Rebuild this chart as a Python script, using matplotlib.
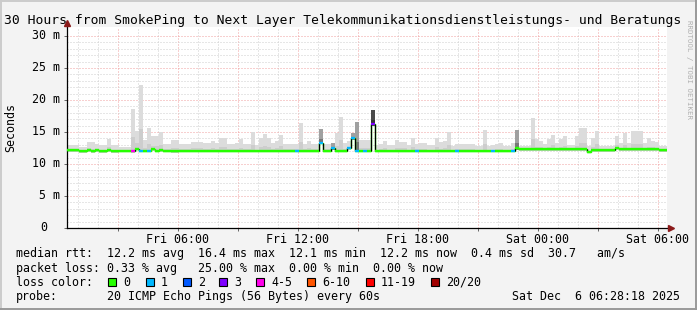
import numpy as np
import matplotlib
matplotlib.use("Agg")
import matplotlib.pyplot as plt
from matplotlib import transforms
from matplotlib.patches import Rectangle
from matplotlib.lines import Line2D

plt.rcParams['font.family'] = 'DejaVu Sans Mono'

W, H = 697, 310
label_size = 8.4

# time axis: hours since Fri 00:00, graph ends Sat 06:28:18
t_start = 0.4717
bin_h = 0.2

title = "30 Hours from SmokePing to Next Layer Telekommunikationsdienstleistungs- und Beratungs"
tick_hours = [6, 12, 18, 24, 30]
tick_labels = ["Fri 06:00", "Fri 12:00", "Fri 18:00", "Sat 00:00", "Sat 06:00"]
y_ticks = [0, 5, 10, 15, 20, 25, 30]
y_labels = ["0", "5 m", "10 m", "15 m", "20 m", "25 m", "30 m"]

# median rtt per 12 minute bin (ms)
median = [
    12.2, 12.2, 12.2, 12.0, 12.0, 12.2, 12.0, 12.2, 12.0, 12.0,
    12.2, 12.0, 12.0, 12.1, 12.1, 12.1, 12.0, 12.4, 12.1, 12.1,
    12.1, 12.3, 12.1, 12.2, 12.1, 12.1, 12.0, 12.0, 12.1, 12.1,
    12.1, 12.1, 12.1, 12.1, 12.1, 12.1, 12.1, 12.1, 12.1, 12.1,
    12.1, 12.1, 12.1, 12.1, 12.1, 12.1, 12.1, 12.1, 12.1, 12.1,
    12.1, 12.1, 12.1, 12.1, 12.1, 12.1, 12.1, 12.1, 12.1, 12.1,
    12.1, 12.1, 12.1, 13.3, 12.1, 12.1, 12.5, 12.1, 12.1, 12.1,
    12.5, 14.0, 12.1, 12.1, 12.1, 12.1, 16.25, 12.1, 12.1, 12.1,
    12.1, 12.1, 12.1, 12.1, 12.1, 12.1, 12.1, 12.1, 12.1, 12.1,
    12.1, 12.1, 12.1, 12.1, 12.1, 12.1, 12.1, 12.1, 12.1, 12.1,
    12.1, 12.1, 12.1, 12.1, 12.1, 12.1, 12.1, 12.1, 12.1, 12.1,
    12.1, 12.1, 12.5, 12.3, 12.3, 12.3, 12.3, 12.3, 12.3, 12.3,
    12.3, 12.3, 12.3, 12.3, 12.3, 12.3, 12.3, 12.3, 12.3, 12.3,
    11.9, 12.2, 12.2, 12.2, 12.2, 12.2, 12.2, 12.5, 12.3, 12.3,
    12.3, 12.3, 12.3, 12.3, 12.3, 12.3, 12.3, 12.3, 12.2, 12.2,
]

# top of the smoke (slowest ping) per bin (ms)
smoke_top = [
    13.0, 13.0, 13.0, 12.7, 12.7, 13.5, 13.5, 13.2, 12.9, 12.9,
    13.85, 13.0, 13.0, 12.7, 12.7, 12.7, 18.6, 15.2, 22.3, 13.8,
    15.6, 14.4, 14.4, 15.0, 13.2, 13.2, 13.8, 13.7, 13.2, 13.2,
    13.2, 13.5, 13.5, 13.5, 13.3, 13.3, 13.6, 13.3, 14.0, 14.0,
    13.1, 13.1, 13.3, 13.9, 13.1, 13.1, 15.05, 12.9, 14.0, 14.7,
    14.0, 13.3, 13.6, 14.6, 13.1, 13.1, 13.1, 13.2, 16.35, 13.1,
    13.6, 13.1, 13.1, 15.4, 13.1, 13.1, 13.3, 14.8, 17.4, 13.3,
    13.6, 14.8, 16.6, 13.8, 13.8, 13.8, 18.4, 12.9, 13.1, 13.6,
    12.9, 12.9, 13.8, 13.5, 13.5, 12.9, 14.1, 13.1, 13.3, 13.3,
    12.9, 12.9, 14.1, 13.4, 13.6, 14.95, 12.8, 13.1, 13.1, 13.1,
    13.2, 13.1, 12.8, 12.8, 15.3, 12.8, 12.9, 13.1, 13.3, 12.8,
    12.8, 13.3, 15.3, 12.8, 12.8, 12.8, 17.2, 13.9, 13.6, 13.2,
    13.9, 14.6, 13.3, 13.9, 14.4, 13.0, 13.0, 14.4, 15.6, 15.6,
    12.8, 14.1, 15.1, 12.8, 12.8, 12.8, 12.8, 14.3, 13.3, 14.8,
    13.3, 15.1, 15.1, 15.1, 13.3, 14.0, 13.6, 13.5, 12.8, 12.8,
]

# lost pings (of 20) per bin
loss = [
    0, 0, 0, 0, 0, 0, 0, 0, 0, 0,
    0, 0, 0, 0, 0, 0, 4, 0, 1, 0,
    1, 0, 0, 0, 0, 0, 0, 0, 0, 0,
    0, 0, 0, 0, 0, 0, 0, 0, 0, 0,
    0, 0, 0, 0, 0, 0, 0, 0, 0, 0,
    0, 0, 0, 0, 0, 0, 0, 1, 0, 0,
    0, 0, 0, 1, 0, 0, 1, 0, 0, 0,
    1, 1, 1, 0, 1, 0, 3, 0, 0, 0,
    0, 0, 0, 0, 0, 0, 0, 1, 0, 0,
    0, 0, 0, 0, 0, 0, 0, 1, 0, 0,
    0, 0, 0, 0, 0, 0, 1, 0, 0, 0,
    0, 1, 0, 0, 0, 0, 0, 0, 0, 0,
    0, 0, 0, 0, 0, 0, 0, 0, 0, 0,
    0, 0, 0, 0, 0, 0, 0, 0, 0, 0,
    0, 0, 0, 0, 0, 0, 0, 0, 0, 0,
]
dark_bins = [63, 66, 71, 72, 112]
darkest_bins = [76]

loss_names = ["0", "1", "2", "3", "4-5", "6-10", "11-19", "20/20"]
loss_cols = ["#26ff00", "#00b8ff", "#0059ff", "#7e00ff", "#ff00ea", "#ff5500", "#ff0000", "#a10000"]


def loss_color(n):
    if n <= 3:
        return loss_cols[n]
    if n <= 5:
        return loss_cols[4]
    if n <= 10:
        return loss_cols[5]
    if n <= 19:
        return loss_cols[6]
    return loss_cols[7]


def fx(x):
    return x / W


def fy(y):
    return 1 - y / H


median = np.array(median)
smoke_top = np.array(smoke_top)
x_left = t_start + np.arange(len(median)) * bin_h
low = median - 0.25

outer = ['#dcdcdc'] * len(median)
inner = ['#cdcdcd'] * len(median)
for k in dark_bins:
    outer[k], inner[k] = '#a0a0a0', '#777777'
for k in darkest_bins:
    outer[k], inner[k] = '#4a4a4a', '#333333'

fig = plt.figure(figsize=(W / 100, H / 100), dpi=100, facecolor='#f3f3f3')
ax = fig.add_axes([fx(67), 82 / H, 600 / W, 201 / H])
ax.set_facecolor('white')
ax.set_xlim(t_start, t_start + 30)
ax.set_ylim(0, 201 / 6.4)

# grid
ax.set_xticks(np.arange(3, 31, 3))
ax.set_xticklabels([tick_labels[tick_hours.index(h)] if h in tick_hours else "" for h in range(3, 31, 3)],
                   fontsize=label_size)
ax.set_xticks(np.arange(1, 31), minor=True)
ax.set_yticks(y_ticks)
ax.set_yticklabels([])
ax.set_yticks(np.arange(0, 31), minor=True)
ax.set_axisbelow(True)
ax.grid(which='minor', color='#cfcfcf', linestyle=(0, (1, 2)), linewidth=0.72)
ax.grid(which='major', color='#f0a0a0', linestyle=(0, (1, 2)), linewidth=0.72)
ax.tick_params(which='minor', length=0)
ax.tick_params(which='major', length=2, width=0.7, color='#666666', pad=1.5)
for s in ['top', 'right']:
    ax.spines[s].set_visible(False)
for s in ['left', 'bottom']:
    ax.spines[s].set_color('black')
    ax.spines[s].set_linewidth(0.9)

# smoke
ax.bar(x_left, smoke_top - low, bottom=low, width=bin_h, align='edge', color=outer, linewidth=0, zorder=2)
ax.bar(x_left, (smoke_top - low) * 0.35, bottom=low, width=bin_h, align='edge', color=inner, linewidth=0, zorder=2.1)

# median line: small steps stay green, real jumps get a black connector
ax.step(np.append(x_left, x_left[-1] + bin_h), np.append(median, median[-1]), where='post',
        color=loss_cols[0], linewidth=1.0, zorder=3)
jump = np.abs(np.diff(median)) > 0.3
ax.vlines(x_left[1:][jump], np.minimum(median[:-1], median[1:])[jump], np.maximum(median[:-1], median[1:])[jump],
          colors='black', linewidth=0.9, zorder=3.5)
ax.hlines(median, x_left, x_left + bin_h, colors=[loss_color(n) for n in loss], linewidth=1.7, zorder=4)

# arrows
ax.plot([1.006], [0], marker='>', ms=5, color='#8b1a1a', transform=ax.transAxes, clip_on=False, zorder=5)
ax.plot([0], [1.02], marker='^', ms=5, color='#8b1a1a', transform=ax.transAxes, clip_on=False, zorder=5)

# y labels
ytrans = transforms.offset_copy(transforms.blended_transform_factory(fig.transFigure, ax.transData),
                                fig=fig, y=-3.3, units='dots')
for v, lab in zip(y_ticks, y_labels):
    xr = 47 if lab == "0" else 60
    fig.text(fx(xr), v, lab, transform=ytrans, ha='right', va='baseline', fontsize=label_size)

fig.text(fx(11), fy(127), "Seconds", rotation=90, ha='center', va='center', fontsize=label_size)
fig.text(fx(4), fy(24), title, ha='left', va='baseline', fontsize=9.4)
fig.text(fx(689), fy(20), "RRDTOOL / TOBI OETIKER", rotation=270, ha='center', va='top',
         fontsize=5.3, color='#b0b0b0')

# legend lines
fig.text(fx(16), fy(257.5), "median rtt:  12.2 ms avg  16.4 ms max  12.1 ms min  12.2 ms now  0.4 ms sd  30.7   am/s",
         ha='left', va='baseline', fontsize=label_size)
fig.text(fx(16), fy(271.7), "packet loss: 0.33 % avg   25.00 % max  0.00 % min  0.00 % now",
         ha='left', va='baseline', fontsize=label_size)
fig.text(fx(16), fy(285.8), "loss color:", ha='left', va='baseline', fontsize=label_size)
box_x = [108, 146, 183, 219, 256, 307, 366, 431]
for bx, name, c in zip(box_x, loss_names, loss_cols):
    fig.add_artist(Rectangle((fx(bx), fy(286)), 8 / W, 8 / H, transform=fig.transFigure,
                             facecolor=c, edgecolor='black', linewidth=0.8))
    fig.text(fx(bx + 15), fy(285.8), name, ha='left', va='baseline', fontsize=label_size)
fig.text(fx(16), fy(300), "probe:", ha='left', va='baseline', fontsize=label_size)
fig.text(fx(107), fy(300), "20 ICMP Echo Pings (56 Bytes) every 60s", ha='left', va='baseline', fontsize=label_size)
fig.text(fx(680), fy(300), "Sat Dec  6 06:28:18 2025", ha='right', va='baseline', fontsize=label_size)

# frame
fig.add_artist(Line2D([0, 1], [fy(0.7), fy(0.7)], transform=fig.transFigure, color='#cbcbcb', linewidth=1.4))
fig.add_artist(Line2D([fx(0.7), fx(0.7)], [0, 1], transform=fig.transFigure, color='#cbcbcb', linewidth=1.4))
fig.add_artist(Line2D([0, 1], [fy(309), fy(309)], transform=fig.transFigure, color='#999999', linewidth=1.4))
fig.add_artist(Line2D([fx(696), fx(696)], [0, 1], transform=fig.transFigure, color='#999999', linewidth=1.4))

plt.savefig("out.png", dpi=100, facecolor=fig.get_facecolor())
